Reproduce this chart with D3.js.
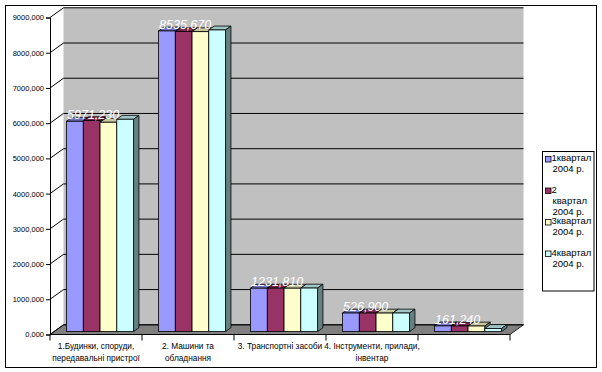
<!DOCTYPE html>
<html>
<head>
<meta charset="utf-8">
<script src="https://cdn.jsdelivr.net/npm/d3@7"></script>
<style>
  body { margin: 0; background: #fff; }
  svg { display: block; font-family: "Liberation Sans", Arial, sans-serif; }
</style>
</head>
<body>
<script>
// categories (each label split into its printed lines)
var categories = [
    ["1.Будинки, споруди,", "передавальні пристрої"],
    ["2. Машини та", "обладнання"],
    ["3. Транспортні засоби"],
    ["4. Інструменти, прилади,", "інвентар"],
    []
];

// series values, thousands
var q1 = [5971.23, 8535.67, 1231.81, 526.9, 161.24];
var q2 = [5990, 8517, 1234, 527, 160];
var q3 = [5943, 8515, 1232, 526, 158];
var q4 = [6028, 8564, 1236, 527, 88];

var seriesNames = [
    ["1квартал", "2004 р."],
    ["2", "квартал", "2004 р."],
    ["3квартал", "2004 р."],
    ["4квартал", "2004 р."]
];
var seriesColors = ["#9999ff", "#993366", "#ffffcc", "#ccffff"];

var yTicks = [0, 1000, 2000, 3000, 4000, 5000, 6000, 7000, 8000, 9000];

var series = [q1, q2, q3, q4];

var width = 602, height = 372;
var DX = 13.5, DY = -9.7;   // full depth offset of the 3d box
var f0 = 0.3, f1 = 0.7;     // depth of the bars front / back

var svg = d3.select("body").append("svg")
    .attr("width", width)
    .attr("height", height);

// outer frame
svg.append("rect")
    .attr("x", 5.5).attr("y", 5.5)
    .attr("width", 591).attr("height", 362)
    .attr("fill", "#fff").attr("stroke", "#000");

var x = d3.scaleBand().domain(d3.range(categories.length)).range([50, 510]);
var y = d3.scaleLinear().domain([0, 9000]).range([334.5, 17.5]);
var sx = d3.scaleBand().domain(d3.range(series.length)).range([-33.5, 33.5]);

function pt(px, py, f) { return [px + f * DX, py + f * DY]; }
function poly(pts) { return pts.map(function(p){ return p.join(","); }).join(" "); }

var x0 = x.range()[0], x1 = x.range()[1];

// back wall
svg.append("polygon")
    .attr("points", poly([pt(x0, y(9000), 1), pt(x1, y(9000), 1), pt(x1, y(0), 1), pt(x0, y(0), 1)]))
    .attr("fill", "#c0c0c0");

// floor
svg.append("polygon")
    .attr("points", poly([pt(x0, y(0), 0), pt(x1, y(0), 0), pt(x1, y(0), 1), pt(x0, y(0), 1)]))
    .attr("fill", "#808080")
    .attr("stroke", "#000").attr("stroke-width", 0.8);

// gridlines on side and back
svg.selectAll(".grid")
    .data(yTicks)
    .enter()
    .append("polyline")
    .attr("class", "grid")
    .attr("points", function(t){ return poly([pt(x0, y(t), 0), pt(x0, y(t), 1), pt(x1, y(t), 1)]); })
    .attr("fill", "none")
    .attr("stroke", "#000");

// value axis
var yAxis = svg.append("g")
    .attr("transform", "translate(" + x0 + ",0)")
    .call(d3.axisLeft(y).tickValues(yTicks).tickSize(4).tickPadding(2)
        .tickFormat(function(d){ return d.toFixed(3).replace(".", ","); }));
yAxis.select(".domain").attr("stroke", "#000");
yAxis.selectAll("text").attr("font-size", 7.5).attr("font-family", "Liberation Sans, Arial").attr("fill", "#000");

// category axis
svg.append("line")
    .attr("x1", x0).attr("x2", x1)
    .attr("y1", y(0)).attr("y2", y(0))
    .attr("stroke", "#000");
svg.selectAll(".ctick")
    .data(d3.range(categories.length + 1))
    .enter()
    .append("line")
    .attr("class", "ctick")
    .attr("x1", function(i){ return x0 + i * x.bandwidth(); })
    .attr("x2", function(i){ return x0 + i * x.bandwidth(); })
    .attr("y1", y(0)).attr("y2", y(0) + 6)
    .attr("stroke", "#000");

var catLabels = svg.selectAll(".clabel")
    .data(categories)
    .enter()
    .append("text")
    .attr("class", "clabel")
    .attr("text-anchor", "middle")
    .attr("font-size", 8.3);
catLabels.selectAll("tspan")
    .data(function(d, i){ return d.map(function(s){ return {s: s, i: i}; }); })
    .enter()
    .append("tspan")
    .attr("x", function(d){ return x(d.i) + x.bandwidth() / 2; })
    .attr("y", function(d, k){ return 349 + k * 11.5; })
    .text(function(d){ return d.s; });

// bars
function shade(c, k) {
    var r = d3.rgb(c);
    return d3.rgb(r.r * k, r.g * k, r.b * k).formatHex();
}

categories.forEach(function(cat, i) {
    var g = svg.append("g");
    var cx = x(i) + x.bandwidth() / 2;
    series.forEach(function(vals, j) {
        var left = cx + sx(j), right = left + sx.bandwidth();
        var top = y(vals[i]), bot = y(0);
        var col = seriesColors[j];
        g.append("polygon")
            .attr("points", poly([pt(left, top, f0), pt(right, top, f0), pt(right, top, f1), pt(left, top, f1)]))
            .attr("fill", shade(col, 0.78))
            .attr("stroke", "#000").attr("stroke-width", 0.8);
        g.append("polygon")
            .attr("points", poly([pt(right, top, f0), pt(right, top, f1), pt(right, bot, f1), pt(right, bot, f0)]))
            .attr("fill", shade(col, 0.5))
            .attr("stroke", "#000").attr("stroke-width", 0.8);
        var a = pt(left, top, f0), b = pt(right, bot, f0);
        g.append("rect")
            .attr("x", a[0]).attr("y", a[1])
            .attr("width", b[0] - a[0]).attr("height", b[1] - a[1])
            .attr("fill", col)
            .attr("stroke", "#000").attr("stroke-width", 0.8);
    });
});

// data labels (first quarter)
svg.selectAll(".vlabel")
    .data(q1)
    .enter()
    .append("text")
    .attr("class", "vlabel")
    .attr("x", function(d, i){ return pt(x(i) + x.bandwidth() / 2 + sx(0), y(d), f0)[0] + 0.5; })
    .attr("y", function(d, i){ return pt(0, y(d), f0)[1] - 2; })
    .attr("font-size", 12.5)
    .attr("font-style", "italic")
    .attr("fill", "#fff")
    .text(function(d){ return d.toFixed(3).replace(".", ","); });

// legend
var legend = svg.append("g");
legend.append("rect")
    .attr("x", 542.5).attr("y", 151.5)
    .attr("width", 51.5).attr("height", 139.5)
    .attr("fill", "#fff").attr("stroke", "#000");

seriesNames.forEach(function(lines, j) {
    var base = 161 + j * 31.5;
    legend.append("rect")
        .attr("x", 545.5).attr("y", base - 4.5)
        .attr("width", 5.5).attr("height", 5.5)
        .attr("fill", seriesColors[j])
        .attr("stroke", "#000").attr("stroke-width", 0.8);
    legend.append("text")
        .attr("font-size", 9.5)
        .selectAll("tspan")
        .data(lines)
        .enter()
        .append("tspan")
        .attr("x", function(d, k){ return k ? 552.5 : 551.5; })
        .attr("y", function(d, k){ return base + k * 11; })
        .text(function(d){ return d; });
});
</script>
</body>
</html>
